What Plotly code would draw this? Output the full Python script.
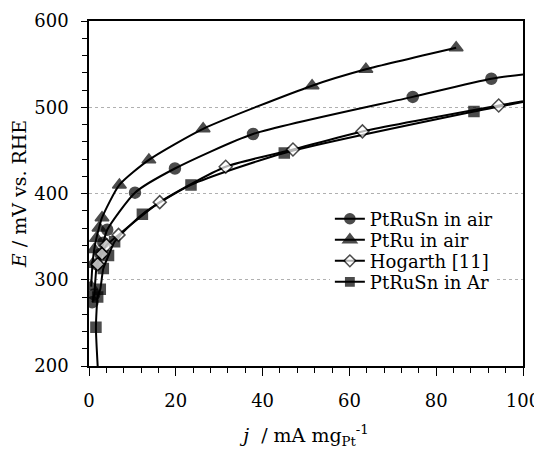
import plotly.graph_objects as go

# ---- data ----
air_x = [0.8, 1.2, 1.8, 2.6, 3.3, 4.2, 10.6, 19.8, 37.8, 74.6, 92.7, 100.0]
air_E = [274, 283, 318, 330, 343, 358, 401, 429, 469, 512, 533, 538]
air_show = [1] * 11 + [0]

ptru_x = [0.5, 0.8, 1.2, 1.7, 2.3, 3.0, 7.0, 13.8, 26.3, 51.4, 63.8, 84.6]
ptru_E = [292, 318, 335, 348, 360, 372, 410, 439, 475, 525, 544, 569]
ptru_show = [1] * 12

hog_x = [2.0, 3.0, 4.0, 6.8, 16.3, 31.5, 47.0, 63.0, 94.4, 100.0]
hog_E = [318, 330, 340, 352, 390, 431, 451, 472, 502, 507]
hog_show = [1] * 9 + [0]

ar_x = [2.0, 1.6, 2.0, 2.6, 3.3, 4.5, 5.9, 12.3, 23.5, 45.0, 88.7, 100.0]
ar_E = [200, 245, 280, 289, 313, 328, 344, 376, 410, 447, 495, 506]
ar_show = [0] + [1] * 10 + [0]

FONT = "DejaVu Serif"

series = [
    ("PtRuSn in Ar", ar_x, ar_E, ar_show, "square", "black", 10, "legend"),
    ("PtRuSn in air", air_x, air_E, air_show, "circle", "black", 11, "legend2"),
    ("PtRu in air", ptru_x, ptru_E, ptru_show, "triangle-up", "black", 12, "legend3"),
    ("Hogarth [11]", hog_x, hog_E, hog_show, "diamond", "white", 10, "legend4"),
]

fig = go.Figure()
for name, xs, ys, show, sym, fill, size, leg in series:
    fig.add_trace(go.Scatter(
        x=xs, y=ys, name=name, mode="lines+markers",
        line=dict(color="black", width=2, shape="spline", smoothing=0.6),
        marker=dict(symbol=sym, color=fill, size=[size * s for s in show],
                    line=dict(color="black", width=1.5)),
        legend=leg, showlegend=True,
    ))

row_y = {"legend2": 0.426, "legend3": 0.365, "legend4": 0.304, "legend": 0.243}
legends = {}
for leg, yy in row_y.items():
    legends[leg] = dict(
        x=0.555, y=yy, xanchor="left", yanchor="middle",
        bgcolor="white" if leg == "legend" else "rgba(0,0,0,0)",
        borderwidth=0, font=dict(family=FONT, size=18, color="black"),
        itemwidth=30,
    )

# the page body adds an 8 px offset; margins compensate for it
fig.update_layout(
    width=542, height=453,
    margin=dict(l=81, r=27, t=13, b=95, autoexpand=False),
    plot_bgcolor="white", paper_bgcolor="white",
    font=dict(family=FONT, size=18, color="black"),
    **legends,
)

fig.update_xaxes(
    range=[0, 100], dtick=20, tick0=0, automargin=False,
    ticks="outside", ticklen=8, tickwidth=1, tickcolor="black",
    minor=dict(dtick=4, ticks="outside", ticklen=5, tickcolor="black", showgrid=False),
    showline=True, linecolor="black", linewidth=1.5, mirror=True,
    showgrid=False, zeroline=False,
    tickfont=dict(family=FONT, size=18),
    ticklabelstandoff=10,
    title=dict(text="<i>j</i>  / mA mg<sub>Pt</sub><sup>-1</sup>",
               font=dict(family=FONT, size=19), standoff=18),
)
fig.update_yaxes(
    range=[200, 600], dtick=100, tick0=200, automargin=False,
    ticks="outside", ticklen=6, tickwidth=1, tickcolor="black",
    minor=dict(dtick=20, ticks="outside", ticklen=5, tickcolor="black", showgrid=False),
    showline=True, linecolor="black", linewidth=1.5, mirror=True,
    showgrid=True, gridcolor="#b0b0b0", griddash="dot", gridwidth=1,
    zeroline=False,
    tickfont=dict(family=FONT, size=18),
    ticklabelstandoff=9,
    title=dict(text="<i>E</i> / mV vs. RHE",
               font=dict(family=FONT, size=19), standoff=6),
)

fig.write_html("out.html")
